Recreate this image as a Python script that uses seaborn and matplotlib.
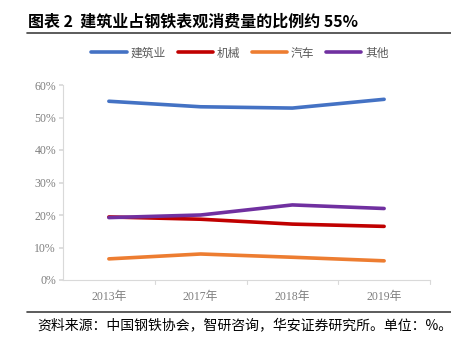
import matplotlib
matplotlib.use("Agg")
import matplotlib.pyplot as plt
import seaborn as sns
import pandas as pd
from matplotlib.ticker import PercentFormatter
from matplotlib.lines import Line2D

years = ["2013年", "2017年", "2018年", "2019年"]
series_names = ["建筑业", "机械", "汽车", "其他"]
construction = [55.0, 53.3, 52.9, 55.6]
machinery = [19.4, 18.7, 17.2, 16.5]
auto = [6.5, 8.0, 7.0, 5.9]
other = [19.2, 20.0, 23.1, 22.0]
colors = ["#4472C4", "#C00000", "#ED7D31", "#7030A0"]

sns.set_theme(style="white")
plt.rcParams['font.family'] = ['Noto Sans CJK SC', 'DejaVu Sans']

rows = []
for name, vals in zip(series_names, [construction, machinery, auto, other]):
    for y, v in zip(years, vals):
        rows.append({"year": y, "series": name, "value": v})
df = pd.DataFrame(rows)

fig = plt.figure(figsize=(4.51, 3.42), dpi=100)
ax = fig.add_axes([63/451, 1-280/342, (430-63)/451, (280-85)/342])

sns.lineplot(data=df, x="year", y="value", hue="series", hue_order=series_names,
             palette=colors, linewidth=2.6, ax=ax, legend=False, sort=False)

ax.set_xlim(-0.5, 3.5)
ax.set_ylim(0, 60)
ax.set_yticks(range(0, 61, 10))
ax.yaxis.set_major_formatter(PercentFormatter(decimals=0))
ax.set_xlabel("")
ax.set_ylabel("")
for s in ["top", "right"]:
    ax.spines[s].set_visible(False)
ax.spines["left"].set_color("#D9D9D9")
ax.spines["bottom"].set_color("#D9D9D9")
ax.spines["left"].set_linewidth(0.8)
ax.spines["bottom"].set_linewidth(0.8)

serif = ['Liberation Serif', 'Noto Sans CJK SC']
ax.tick_params(axis="y", length=3, color="#D9D9D9", labelsize=8.5, labelcolor="#7F7F7F", left=True, pad=2)
ax.tick_params(axis="x", length=0, labelsize=8.5, labelcolor="#7F7F7F", pad=8)
for lbl in ax.get_yticklabels():
    lbl.set_family(serif)
for lbl in ax.get_xticklabels():
    lbl.set_family(serif)
# category boundary ticks
for b in [0.5, 1.5, 2.5, 3.5]:
    ax.plot([b, b], [0, -1.2], color="#D9D9D9", lw=0.8, clip_on=False)

handles = [Line2D([0], [0], color=c, lw=2.6) for c in colors]
fig.legend(handles, series_names, loc="center", bbox_to_anchor=(240/451, 1-53/342),
           ncol=4, frameon=False, fontsize=8.5, handlelength=3.0, columnspacing=1.0,
           handletextpad=0.3, labelcolor="#595959")

fig.text(28/451, 1-21/342, "图表 2  建筑业占钢铁表观消费量的比例约 55%", fontsize=11.5,
         fontweight="bold", color="black", va="center", ha="left")
fig.add_artist(Line2D([27/451, 1.0], [1-33/342, 1-33/342], color="#404040", lw=1.2))
fig.add_artist(Line2D([27/451, 1.0], [1-312/342, 1-312/342], color="#404040", lw=1.2))
fig.text(37/451, 1-325/342, "资料来源：中国钢铁协会，智研咨询，华安证券研究所。单位：%。", fontsize=10,
         color="black", va="center", ha="left")

fig.savefig("out.png", dpi=100)
